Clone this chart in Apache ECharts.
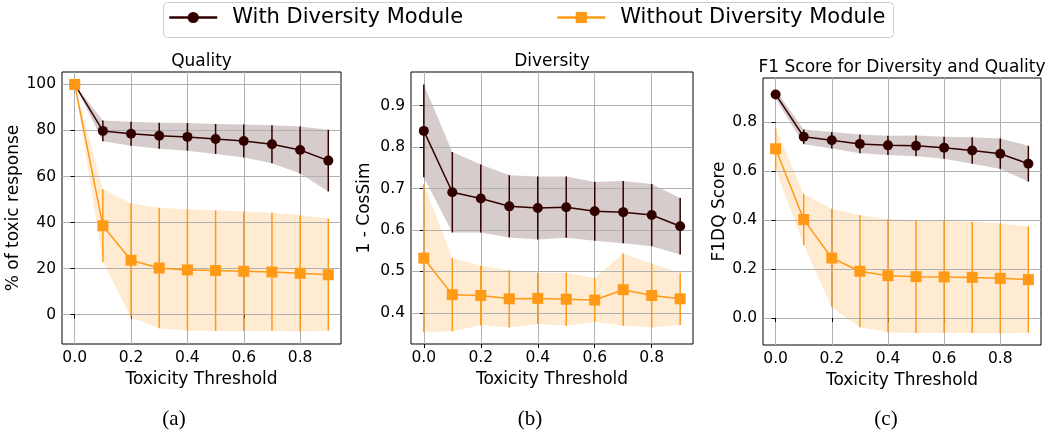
<!DOCTYPE html>
<html><head><meta charset="utf-8">
<script src="https://cdn.jsdelivr.net/npm/echarts@6/dist/echarts.min.js"></script>
<style>html,body{margin:0;padding:0;background:#fff}#c{width:1052px;height:436px}</style>
</head><body><div id="c"></div>
<script>
// ---- data ----
const thresholds = [0, 0.1, 0.2, 0.3, 0.4, 0.5, 0.6, 0.7, 0.8, 0.9];
const xTicks = [0, 0.2, 0.4, 0.6, 0.8];

const qualityWith = [100, 79.8, 78.6, 77.7, 77.2, 76.3, 75.4, 74.0, 71.5, 66.9];
const qualityWithErr = [0, 4.5, 5.2, 5.7, 6.0, 6.5, 7.2, 8.3, 10.2, 13.4];
const qualityWithout = [100, 38.6, 23.6, 20.2, 19.4, 19.1, 18.8, 18.5, 17.9, 17.3];
const qualityWithoutErr = [0, 15.8, 24.8, 26.2, 26.4, 26.2, 26.0, 25.7, 25.3, 24.3];
const qualityTicks = [0, 20, 40, 60, 80, 100];

const diversityWith = [0.839, 0.691, 0.676, 0.657, 0.653, 0.655, 0.645, 0.643, 0.636, 0.609];
const diversityWithErr = [0.112, 0.097, 0.082, 0.075, 0.076, 0.074, 0.071, 0.075, 0.075, 0.068];
const diversityWithout = [0.532, 0.444, 0.442, 0.434, 0.435, 0.433, 0.431, 0.456, 0.442, 0.434];
const diversityWithoutErr = [0.178, 0.088, 0.072, 0.069, 0.062, 0.064, 0.053, 0.087, 0.077, 0.063];
const diversityTicks = [0.4, 0.5, 0.6, 0.7, 0.8, 0.9];

const f1With = [0.913, 0.740, 0.726, 0.711, 0.705, 0.703, 0.695, 0.684, 0.671, 0.630];
const f1WithErr = [0.018, 0.030, 0.034, 0.038, 0.039, 0.042, 0.045, 0.054, 0.062, 0.073];
const f1Without = [0.691, 0.402, 0.245, 0.191, 0.173, 0.169, 0.168, 0.166, 0.162, 0.157];
const f1WithoutErr = [0.084, 0.104, 0.201, 0.229, 0.231, 0.230, 0.228, 0.227, 0.225, 0.217];
const f1Ticks = [0, 0.2, 0.4, 0.6, 0.8];

const seriesNames = ['With Diversity Module', 'Without Diversity Module'];
const panelTitles = ['Quality', 'Diversity', 'F1 Score for Diversity and Quality'];
const yNames = ['% of toxic response', '1 - CosSim', 'F1DQ Score'];
const xName = 'Toxicity Threshold';
const panelTags = ['(a)', '(b)', '(c)'];

// ---- chart ----
const FONT = 'DejaVu Sans';
const DARK = '#330000', ORANGE = '#ff9a17';
const DARK_BAND = 'rgba(51,0,0,0.2)', ORANGE_BAND = 'rgba(255,154,23,0.2)';

const panels = [
  {withM: qualityWith, withE: qualityWithErr, woM: qualityWithout, woE: qualityWithoutErr, ticks: qualityTicks,
   yMin: -12.8, yMax: 105.4, dec: 0, grid: {left: 62, top: 72, width: 279, height: 272}, nameGap: 38, titleTop: 53},
  {withM: diversityWith, withE: diversityWithErr, woM: diversityWithout, woE: diversityWithoutErr, ticks: diversityTicks,
   yMin: 0.325, yMax: 0.981, dec: 1, grid: {left: 411, top: 72, width: 282, height: 272}, nameGap: 38, titleTop: 53},
  {withM: f1With, withE: f1WithErr, woM: f1Without, woE: f1WithoutErr, ticks: f1Ticks,
   yMin: -0.11, yMax: 0.98, dec: 1, grid: {left: 763, top: 78, width: 278, height: 267}, nameGap: 33, titleTop: 59}
];

const grids = [], xAxes = [], yAxes = [], series = [], titles = [];
const axisText = {fontFamily: FONT, fontSize: 15.5, color: '#000'};
const nameText = {fontFamily: FONT, fontSize: 17, color: '#000'};

function bandSeries(pi, mean, err, color, z) {
  const lo = mean.map((m, i) => m - err[i]);
  const hi = mean.map((m, i) => m + err[i]);
  return {
    type: 'custom', xAxisIndex: pi, yAxisIndex: pi, z: z, silent: true,
    data: thresholds.map((x, i) => [x, lo[i], hi[i]]),
    encode: {x: 0, y: [1, 2]},
    renderItem: function (params, api) {
      if (params.dataIndex !== 0) return null;
      const pts = [];
      for (let i = 0; i < thresholds.length; i++) pts.push(api.coord([thresholds[i], hi[i]]));
      for (let i = thresholds.length - 1; i >= 0; i--) pts.push(api.coord([thresholds[i], lo[i]]));
      return {type: 'polygon', shape: {points: pts}, style: {fill: color}};
    }
  };
}
function errSeries(pi, mean, err, color, z) {
  return {
    type: 'custom', xAxisIndex: pi, yAxisIndex: pi, z: z, silent: true,
    data: thresholds.map((x, i) => [x, mean[i] - err[i], mean[i] + err[i]]),
    encode: {x: 0, y: [1, 2]},
    renderItem: function (params, api) {
      const p1 = api.coord([api.value(0), api.value(1)]);
      const p2 = api.coord([api.value(0), api.value(2)]);
      return {type: 'line', shape: {x1: p1[0], y1: p1[1], x2: p2[0], y2: p2[1]},
              style: {stroke: color, lineWidth: 1.5}};
    }
  };
}
function lineSeries(pi, name, mean, color, symbol, size, z) {
  return {
    type: 'line', name: name, xAxisIndex: pi, yAxisIndex: pi, z: z,
    data: thresholds.map((x, i) => [x, mean[i]]),
    symbol: symbol, symbolSize: size, showAllSymbol: true,
    itemStyle: {color: color, opacity: 1},
    lineStyle: {color: color, width: 1.5},
    emphasis: {disabled: true}
  };
}

panels.forEach((p, pi) => {
  grids.push(Object.assign({show: true, borderColor: '#000', borderWidth: 1, backgroundColor: 'transparent'}, p.grid));
  const cx = p.grid.left + p.grid.width / 2;
  titles.push({text: panelTitles[pi], left: cx, top: p.titleTop, textAlign: 'center', padding: 0,
               textStyle: {fontFamily: FONT, fontSize: 17, fontWeight: 'normal', color: '#000'}});
  titles.push({text: panelTags[pi], left: [174, 530, 886][pi], top: 409, textAlign: 'center', padding: 0,
               textStyle: {fontFamily: 'Liberation Serif', fontSize: 21, fontWeight: 'normal', color: '#000'}});
  xAxes.push({
    type: 'value', gridIndex: pi, min: -0.045, max: 0.945, z: 1,
    axisLine: {show: false},
    axisTick: {show: true, length: 4, customValues: xTicks, lineStyle: {color: '#000', width: 1}},
    axisLabel: {customValues: xTicks, margin: 6, formatter: v => v.toFixed(1), ...axisText},
    splitLine: {show: true, lineStyle: {color: '#b0b0b0', width: 1}},
    name: xName, nameLocation: 'middle', nameGap: 27, nameTextStyle: nameText
  });
  yAxes.push({
    type: 'value', gridIndex: pi, min: p.yMin, max: p.yMax, z: 1,
    axisLine: {show: false},
    axisTick: {show: true, length: 4, customValues: p.ticks, lineStyle: {color: '#000', width: 1}},
    axisLabel: {customValues: p.ticks, margin: 6, formatter: v => v.toFixed(p.dec), ...axisText},
    splitLine: {show: true, lineStyle: {color: '#b0b0b0', width: 1}},
    name: yNames[pi], nameLocation: 'middle', nameGap: p.nameGap, nameTextStyle: nameText
  });
  series.push(bandSeries(pi, p.withM, p.withE, DARK_BAND, 0));
  series.push(bandSeries(pi, p.woM, p.woE, ORANGE_BAND, 0));
  series.push(errSeries(pi, p.withM, p.withE, DARK, 2));
  series.push(lineSeries(pi, seriesNames[0], p.withM, DARK, 'circle', 10, 2.5));
  series.push(errSeries(pi, p.woM, p.woE, ORANGE, 3));
  series.push(lineSeries(pi, seriesNames[1], p.woM, ORANGE, 'rect', 11, 3.5));
});

const chart = echarts.init(document.getElementById('c'), null, {renderer: 'canvas'});
chart.setOption({
  animation: false,
  backgroundColor: '#fff',
  title: titles,
  graphic: [{type: 'rect', left: 163, top: 2, z: -10,
             shape: {width: 730, height: 35, r: 4}, style: {fill: '#fff', stroke: '#cccccc', lineWidth: 1}}],
  legend: {
    left: 168, top: 7, padding: 0, itemWidth: 48, itemHeight: 14, itemGap: 93, selectedMode: false,
    data: seriesNames,
    lineStyle: {width: 2.5},
    textStyle: {fontFamily: FONT, fontSize: 21, color: '#000', padding: [0, 0, 0, 10]}
  },
  grid: grids, xAxis: xAxes, yAxis: yAxes, series: series
});
</script></body></html>
